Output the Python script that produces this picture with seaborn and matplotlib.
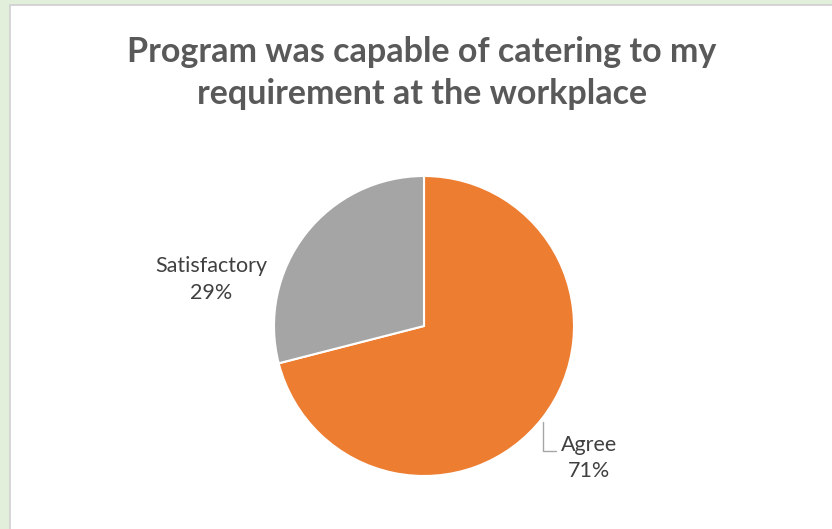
import matplotlib
matplotlib.use("Agg")
import matplotlib.pyplot as plt
import seaborn as sns
from matplotlib.patches import Rectangle

# ---------------------------
# Data
# ---------------------------
categories = ["Agree", "Satisfactory"]
shares = [71, 29]
colors = ["#ED7D31", "#A5A5A5"]
title = "Program was capable of catering to my\nrequirement at the workplace"

sns.set_theme(style="white")
plt.rcParams["font.family"] = ["Lato", "DejaVu Sans"]

W, H = 832, 529
fig = plt.figure(figsize=(W / 100, H / 100), dpi=100)
fig.patch.set_facecolor("#E2EFDA")

# white chart area with thin grey border (kept behind the pie)
fig.patches.append(Rectangle((9.5 / W, -0.05), 1, 1.05 - 4.5 / H, transform=fig.transFigure,
                             facecolor="white", edgecolor="#D0CED3", linewidth=1.2,
                             zorder=-10))

# pie axes placed so the circle sits at the reference position
ax = fig.add_axes([274 / W, 1 - 476 / H, 300 / W, 300 / H])
ax.set_zorder(5)
ax.patch.set_alpha(0)
wedges, _ = ax.pie(shares, colors=colors, startangle=90, counterclock=False,
                   wedgeprops=dict(edgecolor="white", linewidth=1.5))
ax.set_xlim(-1, 1)
ax.set_ylim(-1, 1)
ax.set_aspect("equal")

label_color = "#404040"
ax.text(-1.42, 0.31, f"{categories[1]}\n{shares[1]}%", ha="center", va="center",
        fontsize=15.5, color=label_color, linespacing=1.4)
ax.text(1.10, -0.88, f"{categories[0]}\n{shares[0]}%", ha="center", va="center",
        fontsize=15.5, color=label_color, linespacing=1.4)
# leader line for Agree
ax.plot([0.793, 0.793, 0.88], [-0.64, -0.833, -0.833], color="#A6A6A6", lw=1,
        clip_on=False)

fig.text(422 / W, 1 - 73 / H, title, ha="center", va="center", fontsize=24.5,
         fontweight="bold", color="#595959", linespacing=1.38, zorder=5)

fig.savefig("out.png", dpi=100)
